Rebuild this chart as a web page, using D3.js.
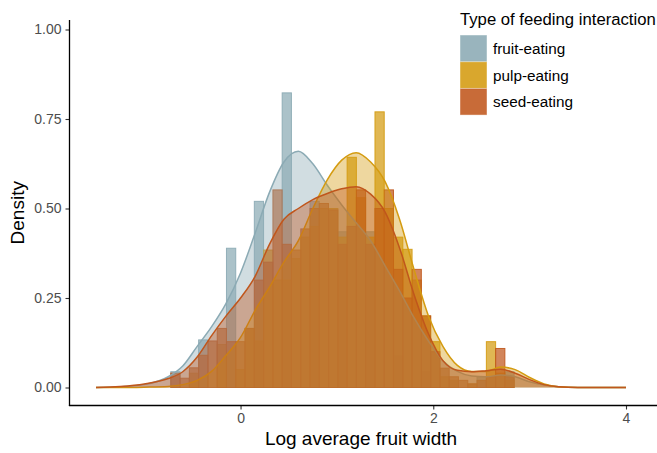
<!DOCTYPE html>
<html><head><meta charset="utf-8">
<script src="https://cdn.jsdelivr.net/npm/d3@7"></script>
<style>body{margin:0;background:#fff;} svg{display:block;font-family:"Liberation Sans",Arial,sans-serif;}</style>
</head><body><svg id="chart" width="657" height="453"></svg>
<script>
const groups = ["fruit-eating", "pulp-eating", "seed-eating"];
const groupColors = ["#8BAAB4", "#D49B10", "#C0561C"];

// histogram bins (centres, log average fruit width)
const binCenters = [-0.772,-0.676,-0.580,-0.483,-0.387,-0.290,-0.194,-0.098,-0.002,0.095,0.191,0.287,0.384,0.480,0.576,0.673,0.769,0.865,0.962,1.058,1.154,1.250,1.347,1.443,1.539,1.636,1.732,1.828,1.925,2.021,2.117,2.213,2.310,2.406,2.502,2.599,2.695,2.791,2.888];
const fruitHist = [0,0.044,0,0,0.133,0,0,0.389,0,0,0.52,0,0,0.823,0,0,0.52,0,0,0.435,0,0,0.435,0,0,0.088,0,0,0.044,0,0,0.02,0,0,0.03,0,0,0.044,0];
const pulpHist  = [0,0,0,0.04,0,0,0.12,0,0.05,0.165,0.13,0.384,0.3,0.3,0.36,0.42,0.45,0.5,0.5,0.42,0.643,0.53,0.42,0.77,0.5,0.42,0.386,0.3,0.2,0.128,0.03,0.02,0,0.01,0,0.128,0.04,0.02,0];
const seedHist  = [0,0.04,0.026,0.055,0.09,0.13,0.165,0.128,0.128,0.165,0.30,0.35,0.552,0.40,0.384,0.443,0.50,0.514,0.496,0.40,0.45,0.552,0.40,0.5,0.552,0.33,0.25,0.33,0.2,0.1,0.054,0.03,0.02,0.01,0.02,0.03,0.109,0.03,0];

// kernel density estimates
const densityX     = [-1.5,-1.25,-1,-0.75,-0.6,-0.45,-0.3,-0.15,0,0.15,0.3,0.45,0.6,0.75,0.9,1.05,1.2,1.35,1.5,1.65,1.8,1.95,2.1,2.25,2.4,2.55,2.7,2.85,3.0,3.15,3.3,3.5,3.75,4.0];
const fruitDensity = [0,0.002,0.008,0.03,0.06,0.115,0.17,0.235,0.32,0.43,0.545,0.63,0.66,0.625,0.565,0.51,0.46,0.41,0.34,0.27,0.195,0.13,0.075,0.045,0.032,0.03,0.035,0.03,0.016,0.007,0.002,0,0,0];
const pulpDensity  = [0,0,0.001,0.003,0.008,0.02,0.045,0.09,0.14,0.215,0.28,0.35,0.41,0.5,0.58,0.635,0.656,0.63,0.575,0.47,0.33,0.2,0.115,0.062,0.045,0.045,0.057,0.05,0.028,0.01,0.002,0,0,0];
const seedDensity  = [0,0.003,0.01,0.025,0.044,0.085,0.145,0.2,0.25,0.31,0.40,0.47,0.5,0.525,0.542,0.555,0.561,0.54,0.49,0.39,0.26,0.15,0.075,0.048,0.044,0.047,0.051,0.04,0.022,0.008,0.002,0,0,0];

const xTicks = [0, 2, 4];
const yTicks = [0, 0.25, 0.5, 0.75, 1.0];
const xTitle = "Log average fruit width";
const yTitle = "Density";
const legendTitle = "Type of feeding interaction";

const histSeries = [fruitHist, pulpHist, seedHist];
const densSeries = [fruitDensity, pulpDensity, seedDensity];

const svg = d3.select("#chart");
const panel = {left: 69.5, right: 652.5, top: 20, bottom: 405.5};
const x = d3.scaleLinear().domain([-1.775, 4.275]).range([panel.left, panel.right]);
const y = d3.scaleLinear().domain([0, 1]).range([387.5, 29.5]);
const binW = x(binCenters[1]) - x(binCenters[0]);

const plot = svg.append("g");

// histograms
histSeries.forEach((vals, gi) => {
  plot.append("g").selectAll("rect").data(binCenters.map((c, i) => ({c, v: vals[i]})))
    .join("rect")
    .attr("x", d => x(d.c) - binW / 2)
    .attr("width", binW)
    .attr("y", d => y(d.v))
    .attr("height", d => y(0) - y(d.v))
    .attr("fill", groupColors[gi]).attr("fill-opacity", 0.72)
    .attr("stroke", groupColors[gi]).attr("stroke-opacity", 0.9).attr("stroke-width", 1);
});

// densities
const area = d3.area().x(d => x(d[0])).y0(y(0)).y1(d => y(d[1])).curve(d3.curveMonotoneX);
const line = d3.line().x(d => x(d[0])).y(d => y(d[1])).curve(d3.curveMonotoneX);
densSeries.forEach((vals, gi) => {
  const pts = densityX.map((v, i) => [v, vals[i]]);
  plot.append("path").datum(pts).attr("d", area)
    .attr("fill", groupColors[gi]).attr("fill-opacity", 0.4);
  plot.append("path").datum(pts).attr("d", line)
    .attr("fill", "none").attr("stroke", groupColors[gi]).attr("stroke-width", 1.5);
});

// axes
const xAxis = svg.append("g").attr("transform", `translate(0,${panel.bottom})`)
  .call(d3.axisBottom(x).tickValues(xTicks).tickFormat(d3.format("d")).tickSize(4).tickPadding(4).tickSizeOuter(0));
const yAxis = svg.append("g").attr("transform", `translate(${panel.left},0)`)
  .call(d3.axisLeft(y).tickValues(yTicks).tickFormat(d3.format(".2f")).tickSize(4).tickPadding(4).tickSizeOuter(0));
[xAxis, yAxis].forEach(a => {
  a.select(".domain").remove();
  a.selectAll(".tick line").attr("stroke", "#333").attr("stroke-width", 1.1);
  a.selectAll(".tick text").attr("fill", "#4D4D4D").style("font-size", "14px").style("font-family", '"Liberation Sans",Arial,sans-serif');
});
svg.append("line").attr("x1", panel.left).attr("x2", panel.left).attr("y1", panel.top).attr("y2", panel.bottom + 0.6)
  .attr("stroke", "#000").attr("stroke-width", 1.3);
svg.append("line").attr("x1", panel.left - 0.6).attr("x2", 657).attr("y1", panel.bottom).attr("y2", panel.bottom)
  .attr("stroke", "#000").attr("stroke-width", 1.3);

// axis titles
svg.append("text").attr("x", (panel.left + panel.right) / 2).attr("y", 445)
  .attr("text-anchor", "middle").style("font-size", "19px").attr("fill", "#000").text(xTitle);
svg.append("text").attr("transform", `translate(24,${(panel.top + panel.bottom) / 2}) rotate(-90)`)
  .attr("text-anchor", "middle").style("font-size", "19px").attr("fill", "#000").text(yTitle);

// legend
const lg = svg.append("g").attr("transform", "translate(460,0)");
lg.append("text").attr("x", 0).attr("y", 25).style("font-size", "16.7px").attr("fill", "#000").text(legendTitle);
groups.forEach((g, i) => {
  const ky = 35 + i * 26.7;
  lg.append("rect").attr("x", 0.5).attr("y", ky + 0.5).attr("width", 26).attr("height", 25.7)
    .attr("fill", groupColors[i]).attr("fill-opacity", 0.88)
    .attr("stroke", groupColors[i]).attr("stroke-opacity", 0.45).attr("stroke-width", 1);
  lg.append("text").attr("x", 33).attr("y", ky + 13.5).attr("dy", "0.35em")
    .style("font-size", "15.3px").attr("fill", "#000").text(g);
});
</script>
</body></html>
